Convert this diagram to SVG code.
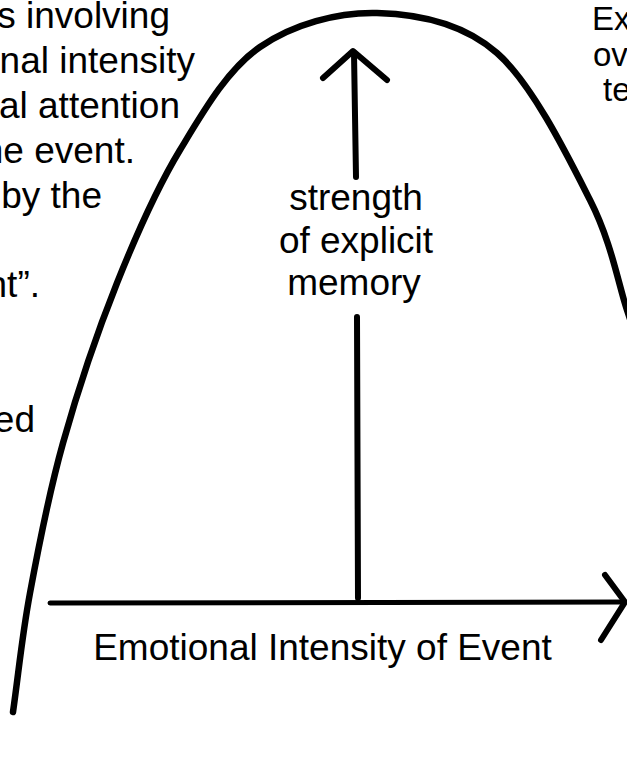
<svg xmlns="http://www.w3.org/2000/svg" width="627" height="759" viewBox="0 0 627 759">
<style>
  text { font-family: "Liberation Sans", Arial, sans-serif; fill: #000; }
  .t37 { font-size: 37px; }
  .t33 { font-size: 33px; }
  .stroke { fill: none; stroke: #000; stroke-linecap: round; stroke-linejoin: round; }
</style>
<rect width="627" height="759" fill="#fff"/>
<g id="curve">
  <path class="stroke" stroke-width="6.5" d="M13,712 C18.7,672.3 21.7,637.8 30,593 C38.3,548.2 48.5,494.7 63,443 C77.5,391.3 97.5,331.8 117,283 C136.5,234.2 156.2,189.3 180,150 C203.8,110.7 227.2,69.8 260,47 C292.8,24.2 337.5,12 377,13 C416.5,14 461.5,21.8 497,53 C532.5,84.2 568.3,157.2 590,200 C611.7,242.8 617.8,282.5 627,310 C636,337 641,352 645,365"/>
</g>
<g id="connectors">
  <g id="x-axis">
    <line class="stroke" stroke-width="5" x1="50" y1="603" x2="624" y2="602"/>
    <polyline class="stroke" stroke-width="6" points="605,575 625,602 601,640"/>
  </g>
  <g id="y-axis">
    <line class="stroke" stroke-width="6" x1="354" y1="53" x2="356" y2="177"/>
    <line class="stroke" stroke-width="6" x1="357" y1="317" x2="358" y2="598"/>
    <polyline class="stroke" stroke-width="6" points="323,78 353,51 387,80"/>
  </g>
</g>
<g id="label-y">
  <text class="t37" x="356" y="210" text-anchor="middle">strength</text>
  <text class="t37" x="356" y="253" text-anchor="middle">of explicit</text>
  <text class="t37" x="354" y="295" text-anchor="middle">memory</text>
</g>
<g id="label-x">
  <text class="t37" x="322.5" y="660" text-anchor="middle">Emotional Intensity of Event</text>
</g>
<g id="left-text">
  <text class="t37" x="170" y="28" text-anchor="end">s involving</text>
  <text class="t37" x="195" y="73" text-anchor="end">nal intensity</text>
  <text class="t37" x="180" y="118" text-anchor="end">al attention</text>
  <text class="t37" x="135" y="163" text-anchor="end">he event.</text>
  <text class="t37" x="102" y="208" text-anchor="end">by the</text>
  <text class="t37" x="40" y="297" text-anchor="end">nt”.</text>
  <text class="t37" x="35" y="432" text-anchor="end">ed</text>
</g>
<g id="right-text">
  <text class="t33" x="592" y="30">Ex</text>
  <text class="t33" x="593" y="66">ov</text>
  <text class="t33" x="603" y="101">te</text>
</g>
</svg>
